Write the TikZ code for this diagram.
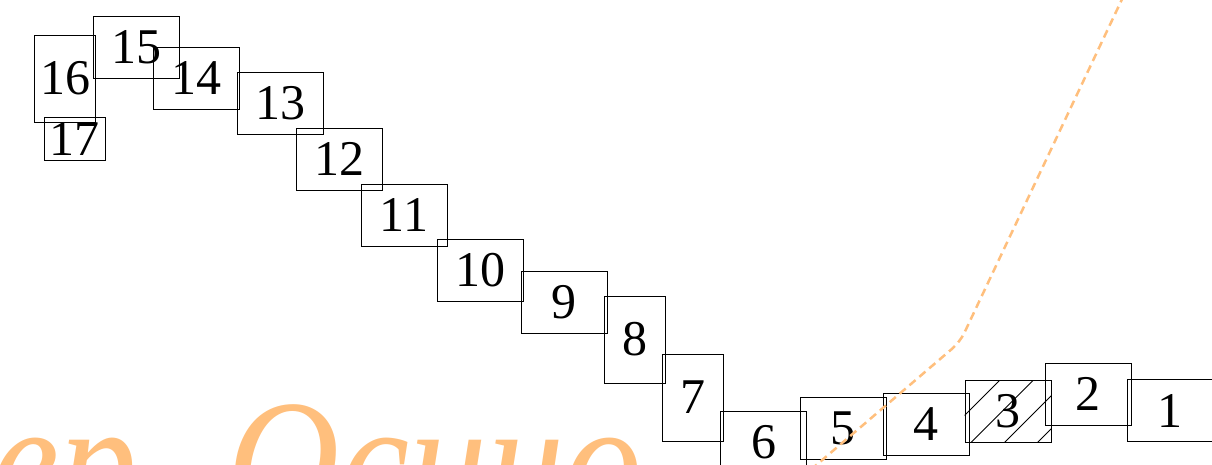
\documentclass[tikz,border=0pt]{standalone}
\usepackage{fontspec}
\setmainfont{Liberation Serif}
\definecolor{road}{RGB}{255,191,125}
\tikzset{
  px/.style={x=1pt,y=-1pt},
  lot/.style={draw=black,line width=0.9pt,rectangle,inner sep=0pt,font=\fontsize{50}{50}\selectfont},
  wide/.style={lot,minimum width=86pt,minimum height=62pt},
  tall/.style={lot,minimum width=61pt,minimum height=87pt},
  roadline/.style={draw=road,line width=2.5pt,dash pattern=on 8pt off 5pt,rounded corners=10pt},
  streetname/.style={text=road,inner sep=0pt,anchor=base west,font=\fontsize{175}{175}\selectfont\itshape}
}
\begin{document}
\begin{tikzpicture}[px]
\useasboundingbox (0,0) rectangle (1212,464);
\clip (0,0) rectangle (1212,464);
\node[streetname] (street) at (-88,520) {\scalebox{0.89}[1]{пер. Осино}};
\node[wide] (b1) at (1170,410.5) {1};
\node[wide] (b2) at (1088,394) {2};
\node[wide] (b3) at (1008,411.5) {3};
\begin{scope}
  \clip (b3.south west) rectangle (b3.north east);
  \foreach \s in {1380,1413.5,1447,1480}
    \draw[line width=0.8pt] (\s-470,470) -- (\s-360,360);
\end{scope}
\node[wide] (b4) at (926,424) {4};
\node[wide] (b5) at (843,428.5) {5};
\node[wide] (b6) at (763.5,442) {6};
\node[tall] (b7) at (692.5,397.5) {7};
\node[tall] (b8) at (635,339.5) {8};
\node[wide] (b9) at (564,302.5) {9};
\node[wide] (b10) at (480,270.5) {10};
\node[wide] (b11) at (404,215) {11};
\node[wide] (b12) at (339,159) {12};
\node[wide] (b13) at (280,103.5) {13};
\node[wide] (b14) at (196.5,78) {14};
\node[wide] (b15) at (136,47) {15};
\node[tall] (b16) at (65,78.5) {16};
\node[lot,minimum width=61pt,minimum height=43pt] (b17) at (74.5,138.5) {17};
\coordinate (r1) at (1124,-5);
\coordinate (r2) at (960,342);
\coordinate (r3) at (800,479);
\draw[roadline] (r1) -- (r2) -- (r3);
\end{tikzpicture}
\end{document}
